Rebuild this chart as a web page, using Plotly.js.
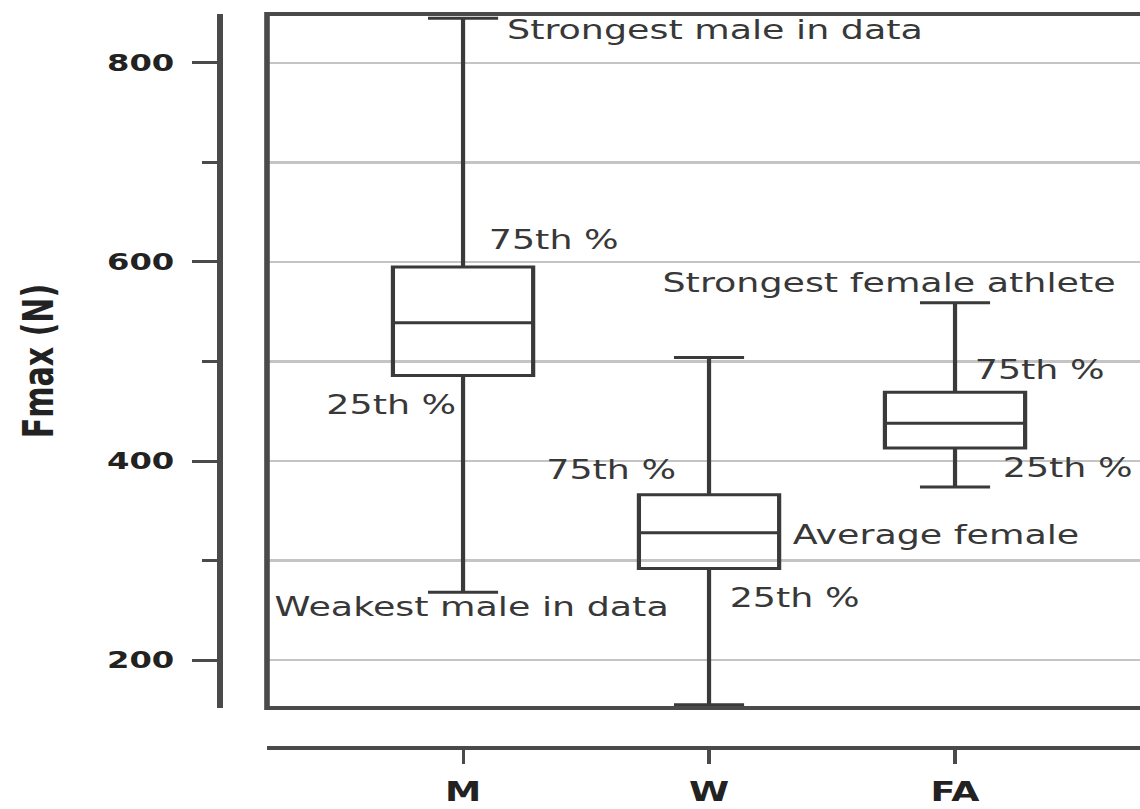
<!DOCTYPE html>
<html>
<head>
<meta charset="utf-8">
<script src="https://cdn.plot.ly/plotly-3.0.1.min.js"></script>
<style>
  html, body { margin: 0; padding: 0; background: #ffffff; overflow: hidden; }
  #chart { width: 814px; height: 809px; transform: scaleX(1.4005); transform-origin: 0 0; }
</style>
</head>
<body>
<div id="chart"></div>
<script>
// ---- data ----
const categories = ['M', 'W', 'FA'];
const lowerWhisker = [268, 155, 374];
const q1 = [486, 292, 413];
const median = [539, 328, 438];
const q3 = [595, 366, 469];
const upperWhisker = [845, 504, 559];

const yTickVals = [200, 400, 600, 800];
const yTickText = ['200', '400', '600', '800'];

// annotation texts with anchor positions (x in category index units, y in N)
const noteText = ['Strongest male in data', '75th %', '25th %', 'Weakest male in data',
                  '75th %', 'Average female', '25th %',
                  'Strongest female athlete', '75th %', '25th %'];
const noteX = [0.17, 0.095, -0.57, -0.78, 0.325, 1.33, 1.075, 0.80, 2.07, 2.18];
const noteY = [833, 622, 456, 253, 391, 326, 262, 579, 491, 393];

const lineCol = '#3a3a3a';
const frameCol = '#4a4a4a';
const textCol = '#383838';

const trace = {
  type: 'box',
  x: categories,
  q1: q1,
  median: median,
  q3: q3,
  lowerfence: lowerWhisker,
  upperfence: upperWhisker,
  width: 0.57,
  whiskerwidth: 0.5,
  boxpoints: false,
  fillcolor: 'rgba(0,0,0,0)',
  line: { color: lineCol, width: 3 },
  showlegend: false,
  hoverinfo: 'skip'
};

const annotations = noteText.map((t, i) => ({
  text: t,
  x: noteX[i],
  y: noteY[i],
  xref: 'x',
  yref: 'y',
  xanchor: 'left',
  yanchor: 'middle',
  showarrow: false,
  font: { family: 'DejaVu Sans', size: 26, color: textCol }
}));

const layout = {
  width: 814,
  height: 809,
  margin: { l: 157, r: 0, t: 14, b: 61 },
  paper_bgcolor: '#ffffff',
  plot_bgcolor: '#ffffff',
  showlegend: false,
  xaxis: {
    type: 'category',
    domain: [0.0512, 1],
    anchor: 'free',
    position: 0,
    range: [-0.797, 2.752],
    showgrid: false,
    zeroline: false,
    showline: true,
    linecolor: frameCol,
    linewidth: 4,
    ticks: 'outside',
    ticklen: 14,
    tickwidth: 2.2,
    tickcolor: frameCol,
    ticklabelstandoff: 6,
    tickfont: { family: 'DejaVu Sans', size: 26, weight: 700, color: '#222222' }
  },
  yaxis: {
    domain: [0.0545, 1],
    anchor: 'free',
    position: 0,
    range: [151.8, 849.2],
    tickmode: 'array',
    tickvals: yTickVals,
    ticktext: yTickText,
    showgrid: true,
    gridcolor: '#c4c4c4',
    gridwidth: 2.5,
    zeroline: false,
    showline: true,
    linecolor: frameCol,
    linewidth: 4,
    ticks: 'outside',
    ticklen: 18,
    tickwidth: 3,
    tickcolor: frameCol,
    ticklabelstandoff: 8,
    tickfont: { family: 'DejaVu Sans', size: 23, weight: 700, color: '#222222' },
    minor: {
      tickmode: 'array',
      tickvals: [300, 500, 700],
      ticks: 'outside',
      ticklen: 11,
      tickwidth: 3,
      tickcolor: frameCol,
      showgrid: true,
      gridcolor: '#c4c4c4',
      gridwidth: 2.5
    },
    title: {
      text: 'Fmax (N)',
      standoff: 28,
      font: { family: 'DejaVu Sans', size: 30, weight: 700, color: '#222222' }
    }
  },
  shapes: [
    {
      type: 'rect',
      xref: 'x domain', yref: 'y domain',
      x0: 0, x1: 1.05, y0: 0, y1: 1,
      line: { color: frameCol, width: 4 },
      fillcolor: 'rgba(0,0,0,0)',
      layer: 'above'
    }
  ],
  annotations: annotations
};

Plotly.newPlot('chart', [trace], layout, { displayModeBar: false, staticPlot: true });
</script>
</body>
</html>
